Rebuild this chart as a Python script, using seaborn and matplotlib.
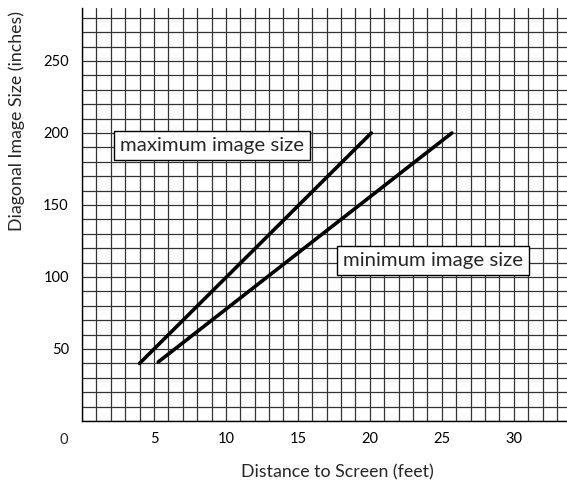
import numpy as np
import pandas as pd
import matplotlib.pyplot as plt
import seaborn as sns

# distance to screen (feet) vs diagonal image size (inches)
max_dist = [4.0, 20.1]
max_size = [40, 200]
min_dist = [5.3, 25.7]
min_size = [41, 200]

x_ticks = [5, 10, 15, 20, 25, 30]
y_ticks = [50, 100, 150, 200, 250]

sns.set_theme(style='white')
plt.rcParams['font.family'] = ['Lato', 'DejaVu Sans']

fig = plt.figure(figsize=(5.67, 4.84), dpi=100)
ax = fig.add_axes([82 / 567, 1 - 421 / 484, 485 / 567, 413 / 484])

df_max = pd.DataFrame({'dist': max_dist, 'size': max_size})
df_min = pd.DataFrame({'dist': min_dist, 'size': min_size})
sns.lineplot(data=df_max, x='dist', y='size', color='black', linewidth=2.6, ax=ax, zorder=5)
sns.lineplot(data=df_min, x='dist', y='size', color='black', linewidth=2.6, ax=ax, zorder=5)

ax.set_xlim(0, 33.7)
ax.set_ylim(0, 286.8)

# grid every foot and every 10 inches
ax.set_xticks(np.arange(0, 34, 1), minor=True)
ax.set_yticks(np.arange(0, 290, 10), minor=True)
ax.set_xticks(x_ticks)
ax.set_yticks(y_ticks)
ax.grid(which='both', color='#333333', linewidth=0.9)
ax.set_axisbelow(True)
ax.tick_params(which='both', length=0, labelsize=10.5, colors='black')
ax.tick_params(axis='y', pad=9.5)
ax.tick_params(axis='x', pad=8)

for s in ['top', 'right']:
    ax.spines[s].set_visible(False)
for s in ['left', 'bottom']:
    ax.spines[s].set_color('black')
    ax.spines[s].set_linewidth(1.0)

ax.annotate('0', xy=(0, 0), xytext=(-18, -19), textcoords='offset pixels',
            ha='center', va='center', fontsize=10.5)

box = dict(boxstyle='square,pad=0.3', facecolor='white', edgecolor='black', linewidth=1.0)
ax.text(9.03, 191.3, 'maximum image size', ha='center', va='center', fontsize=14.7, bbox=box, zorder=6)
ax.text(24.4, 111.5, 'minimum image size', ha='center', va='center', fontsize=14.7, bbox=box, zorder=6)

ax.set_xlabel('Distance to Screen (feet)', fontsize=12.8)
ax.set_ylabel('Diagonal Image Size (inches)', fontsize=12.8)
ax.xaxis.set_label_coords(0.526, -0.1235)
ax.xaxis.label.set_va('center')
ax.yaxis.set_label_coords(-0.134, 0.726)
ax.yaxis.label.set_va('center')

fig.savefig('out.png', dpi=100)
